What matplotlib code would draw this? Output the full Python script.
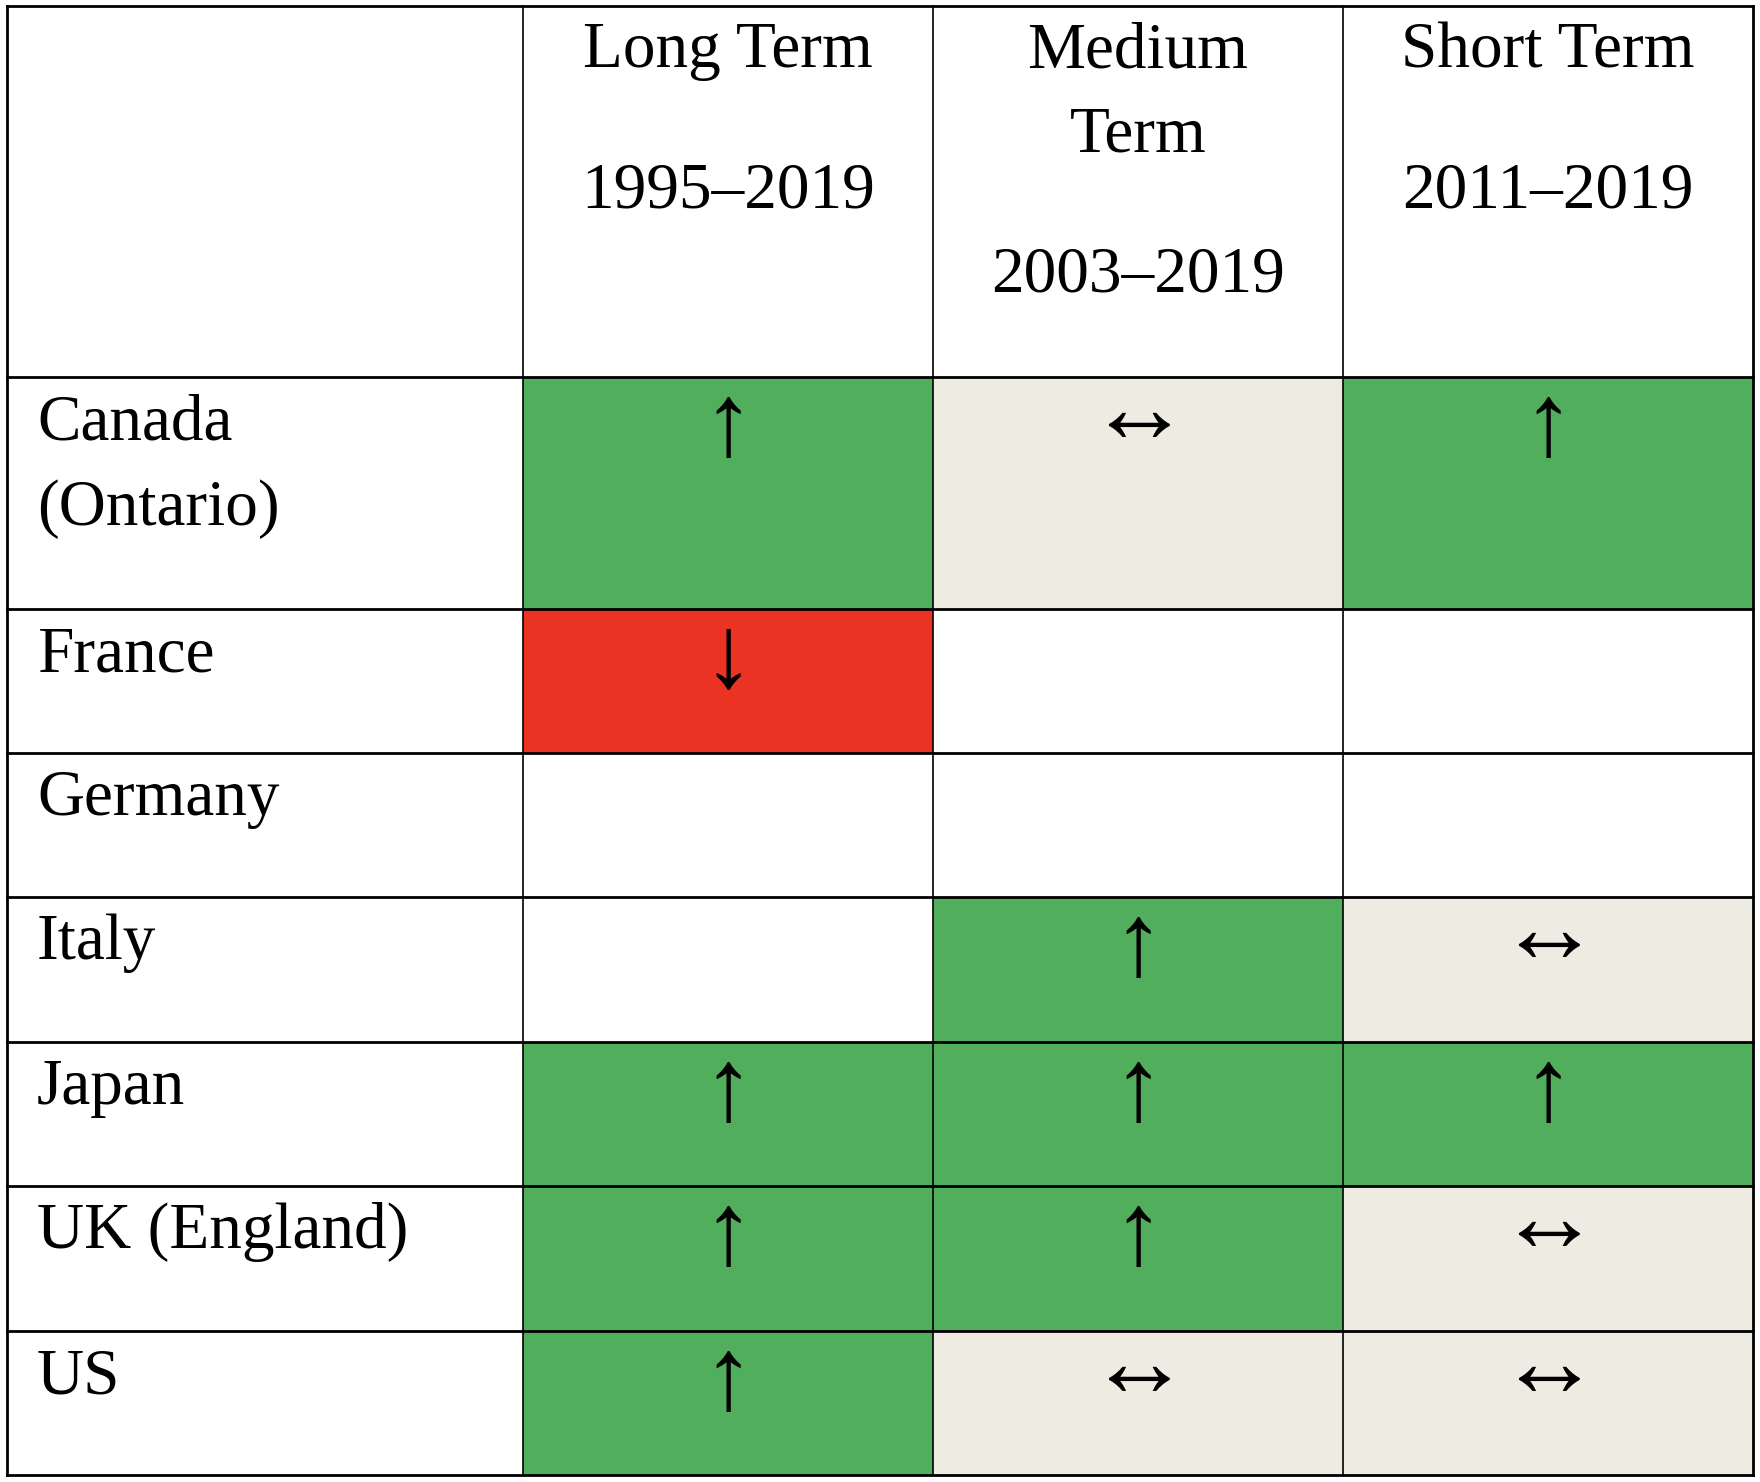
import matplotlib.pyplot as plt
from matplotlib.patches import Rectangle

plt.rcParams['font.family'] = ['Liberation Serif', 'DejaVu Serif']

# ================= Data =================
countries = ['Canada\n(Ontario)', 'France', 'Germany', 'Italy', 'Japan', 'UK (England)', 'US']
headers = [
    ['Long Term', '1995\u20132019'],
    ['Medium', 'Term', '2003\u20132019'],
    ['Short Term', '2011\u20132019'],
]
# trend per country and period: 'up', 'down', 'flat' or None (no data)
trends = [
    ['up', 'flat', 'up'],
    ['down', None, None],
    [None, None, None],
    [None, 'up', 'flat'],
    ['up', 'up', 'up'],
    ['up', 'up', 'flat'],
    ['up', 'flat', 'flat'],
]

colors = {'up': '#50AE5C', 'down': '#EA3323', 'flat': '#EEEBE3', None: 'white'}
symbols = {'up': '\u2191', 'down': '\u2193', 'flat': '\u2194', None: ''}
# baseline offset of each symbol below the row top (px)
sym_offset = {'up': 78, 'down': 78, 'flat': 65}

# ================= Layout (pixels) =================
W, H = 1760, 1482
col_edges = [7, 523, 933, 1343, 1753]
row_edges = [6, 377, 609, 753, 897, 1042, 1186, 1331, 1475]
font_size = 47
arrow_size = 74
line_gap = 86

header_baselines = [
    [67, 208],
    [67, 152, 292],
    [67, 208],
]

fig = plt.figure(figsize=(W / 100, H / 100), dpi=100)
ax = fig.add_axes([0, 0, 1, 1])
ax.set_xlim(0, W)
ax.set_ylim(H, 0)
ax.axis('off')

# cells
for r, row in enumerate(trends):
    y0, y1 = row_edges[r + 1], row_edges[r + 2]
    for c, t in enumerate(row):
        x0, x1 = col_edges[c + 1], col_edges[c + 2]
        ax.add_patch(Rectangle((x0, y0), x1 - x0, y1 - y0,
                               facecolor=colors[t], edgecolor='none', zorder=1))
        if t:
            ax.text((x0 + x1) / 2, y0 + sym_offset[t], symbols[t], ha='center',
                    va='baseline', fontsize=arrow_size, zorder=3)

# header texts
for c, lines in enumerate(headers):
    xc = (col_edges[c + 1] + col_edges[c + 2]) / 2
    for txt, yb in zip(lines, header_baselines[c]):
        ax.text(xc, yb, txt, ha='center', va='baseline', fontsize=font_size, zorder=3)

# country labels
for r, name in enumerate(countries):
    y0 = row_edges[r + 1]
    for k, part in enumerate(name.split('\n')):
        ax.text(37, y0 + 62 + k * line_gap, part, ha='left', va='baseline',
                fontsize=font_size, zorder=3)

# grid lines
for y in row_edges:
    ax.plot([col_edges[0], col_edges[-1]], [y, y], color='black', lw=2.0,
            solid_capstyle='projecting', zorder=4)
for i, x in enumerate(col_edges):
    lw = 2.0 if i in (0, len(col_edges) - 1) else 1.2
    ax.plot([x, x], [row_edges[0], row_edges[-1]], color='black', lw=lw,
            solid_capstyle='projecting', zorder=4)

fig.savefig('out.png', dpi=100)
